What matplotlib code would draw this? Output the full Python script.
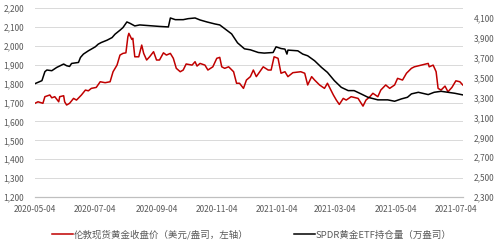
import pandas as pd
import matplotlib.pyplot as plt
import matplotlib.dates as mdates
from matplotlib.ticker import FuncFormatter

plt.rcParams['font.family'] = ['Noto Sans CJK SC', 'DejaVu Sans']

# 伦敦现货黄金收盘价（美元/盎司）
gold_dates = ['2020-05-04', '2020-05-07', '2020-05-12', '2020-05-14', '2020-05-19', '2020-05-21',
              '2020-05-24', '2020-05-28', '2020-05-29', '2020-06-02', '2020-06-03', '2020-06-05',
              '2020-06-08', '2020-06-12', '2020-06-15', '2020-06-20', '2020-06-24', '2020-06-27',
              '2020-06-30', '2020-07-05', '2020-07-09', '2020-07-14', '2020-07-19', '2020-07-22',
              '2020-07-26', '2020-07-29', '2020-08-01', '2020-08-04', '2020-08-06', '2020-08-07',
              '2020-08-10', '2020-08-11', '2020-08-13', '2020-08-17', '2020-08-20', '2020-08-22',
              '2020-08-25', '2020-08-28', '2020-09-01', '2020-09-04', '2020-09-07', '2020-09-11',
              '2020-09-14', '2020-09-18', '2020-09-21', '2020-09-24', '2020-09-28', '2020-10-01',
              '2020-10-04', '2020-10-10', '2020-10-13', '2020-10-15', '2020-10-18', '2020-10-23',
              '2020-10-26', '2020-10-31', '2020-11-04', '2020-11-07', '2020-11-09', '2020-11-12',
              '2020-11-16', '2020-11-21', '2020-11-24', '2020-11-27', '2020-12-01', '2020-12-04',
              '2020-12-08', '2020-12-11', '2020-12-14', '2020-12-21', '2020-12-26', '2020-12-29',
              '2021-01-01', '2021-01-05', '2021-01-08', '2021-01-12', '2021-01-15', '2021-01-20',
              '2021-01-28', '2021-02-01', '2021-02-04', '2021-02-08', '2021-02-11', '2021-02-16',
              '2021-02-21', '2021-02-24', '2021-03-02', '2021-03-05', '2021-03-08', '2021-03-12',
              '2021-03-15', '2021-03-20', '2021-03-27', '2021-04-01', '2021-04-04', '2021-04-08',
              '2021-04-11', '2021-04-16', '2021-04-19', '2021-04-24', '2021-04-28', '2021-05-03',
              '2021-05-06', '2021-05-11', '2021-05-15', '2021-05-20', '2021-05-23', '2021-05-30',
              '2021-06-06', '2021-06-07', '2021-06-11', '2021-06-14', '2021-06-16', '2021-06-19',
              '2021-06-23', '2021-06-26', '2021-06-30', '2021-07-04', '2021-07-08', '2021-07-11']
gold_price = [1696, 1704, 1696, 1731, 1740, 1725,
              1731, 1704, 1731, 1736, 1704, 1687,
              1696, 1722, 1713, 1740, 1766, 1762,
              1775, 1780, 1810, 1805, 1810, 1863,
              1898, 1951, 1960, 1963, 2048, 2066,
              2034, 2040, 1942, 1942, 2004, 1960,
              1925, 1942, 1969, 1925, 1925, 1963,
              1951, 1960, 1934, 1881, 1863, 1872,
              1904, 1898, 1916, 1893, 1907, 1898,
              1872, 1889, 1934, 1939, 1889, 1881,
              1889, 1863, 1802, 1802, 1775, 1819,
              1837, 1872, 1837, 1889, 1872, 1872,
              1942, 1934, 1855, 1863, 1837, 1858,
              1863, 1855, 1793, 1837, 1819, 1793,
              1775, 1802, 1740, 1713, 1690, 1722,
              1713, 1731, 1722, 1681, 1713, 1731,
              1749, 1731, 1766, 1793, 1775, 1793,
              1828, 1819, 1855, 1881, 1889, 1898,
              1907, 1889, 1898, 1863, 1775, 1766,
              1787, 1757, 1780, 1815, 1810, 1793]

# SPDR黄金ETF持仓量（万盎司）
etf_dates = ['2020-05-04', '2020-05-11', '2020-05-14', '2020-05-16', '2020-05-21', '2020-05-26',
             '2020-06-02', '2020-06-05', '2020-06-08', '2020-06-10', '2020-06-17', '2020-06-19',
             '2020-06-22', '2020-06-27', '2020-06-30', '2020-07-04', '2020-07-07', '2020-07-10',
             '2020-07-16', '2020-07-21', '2020-07-24', '2020-07-29', '2020-08-01', '2020-08-05',
             '2020-08-08', '2020-08-13', '2020-08-18', '2020-09-07', '2020-09-16', '2020-09-18',
             '2020-09-23', '2020-10-01', '2020-10-06', '2020-10-13', '2020-10-18', '2020-10-25',
             '2020-11-02', '2020-11-07', '2020-11-15', '2020-11-19', '2020-11-25', '2020-12-02',
             '2020-12-08', '2020-12-16', '2020-12-22', '2020-12-31', '2021-01-03', '2021-01-08',
             '2021-01-12', '2021-01-14', '2021-01-15', '2021-01-25', '2021-01-30', '2021-02-04',
             '2021-02-11', '2021-02-18', '2021-02-24', '2021-03-03', '2021-03-10', '2021-03-17',
             '2021-03-23', '2021-03-30', '2021-04-06', '2021-04-16', '2021-04-26', '2021-05-03',
             '2021-05-10', '2021-05-16', '2021-05-20', '2021-05-27', '2021-06-06', '2021-06-12',
             '2021-06-19', '2021-06-26', '2021-07-03', '2021-07-11']
etf_holding = [3440, 3470, 3560, 3577, 3570, 3603,
               3637, 3620, 3613, 3643, 3653, 3703,
               3737, 3770, 3787, 3810, 3837, 3853,
               3877, 3903, 3937, 3977, 4003, 4060,
               4047, 4020, 4030, 4015, 4010, 4100,
               4083, 4083, 4093, 4100, 4080, 4060,
               4040, 4030, 3970, 3940, 3850, 3790,
               3780, 3753, 3747, 3753, 3810, 3793,
               3787, 3737, 3777, 3770, 3737, 3720,
               3670, 3603, 3553, 3470, 3403, 3370,
               3370, 3337, 3303, 3277, 3277, 3263,
               3287, 3303, 3337, 3353, 3330, 3353,
               3363, 3353, 3343, 3327]

x_ticks = ['2020-05-04', '2020-07-04', '2020-09-04', '2020-11-04',
           '2021-01-04', '2021-03-04', '2021-05-04', '2021-07-04']

gray = '#595959'
fig = plt.figure(figsize=(4.98, 2.43), dpi=100)
ax = fig.add_axes([0.0703, 0.189, 0.859, 0.778])
ax2 = ax.twinx()

l1, = ax.plot(pd.to_datetime(gold_dates), gold_price, color='#C00000', lw=1.1,
              label='伦敦现货黄金收盘价（美元/盎司，左轴）')
l2, = ax2.plot(pd.to_datetime(etf_dates), etf_holding, color='black', lw=1.1,
               label='SPDR黄金ETF持仓量（万盎司）')

ax.set_ylim(1200, 2200)
ax.set_yticks(range(1200, 2201, 100))
ax2.set_ylim(2300, 4200)
ax2.set_yticks(range(2300, 4101, 200))
ax.set_xlim(pd.Timestamp('2020-05-04'), pd.Timestamp('2021-07-11'))
ax.set_xticks(pd.to_datetime(x_ticks))
ax.xaxis.set_major_formatter(mdates.DateFormatter('%Y-%m-%d'))

comma = FuncFormatter(lambda v, p: f'{int(v):,}')
ax.yaxis.set_major_formatter(comma)
ax2.yaxis.set_major_formatter(comma)

ax.grid(axis='y', color='#d9d9d9', lw=0.7)
for a in (ax, ax2):
    for s in ['top', 'left', 'right']:
        a.spines[s].set_visible(False)
    a.spines['bottom'].set_color('#bfbfbf')
    a.tick_params(length=0, labelsize=6, labelcolor=gray)
ax.tick_params(axis='y', pad=8)
ax2.tick_params(axis='y', pad=8)
ax.tick_params(axis='x', pad=6)

fig.legend(handles=[l1, l2], loc='center left', bbox_to_anchor=(0.097, 0.033), ncol=2,
           frameon=False, fontsize=6.8, handlelength=2.2, columnspacing=4.8,
           handletextpad=0.1, borderaxespad=0, labelcolor=gray)

fig.savefig('out.png', dpi=100)
